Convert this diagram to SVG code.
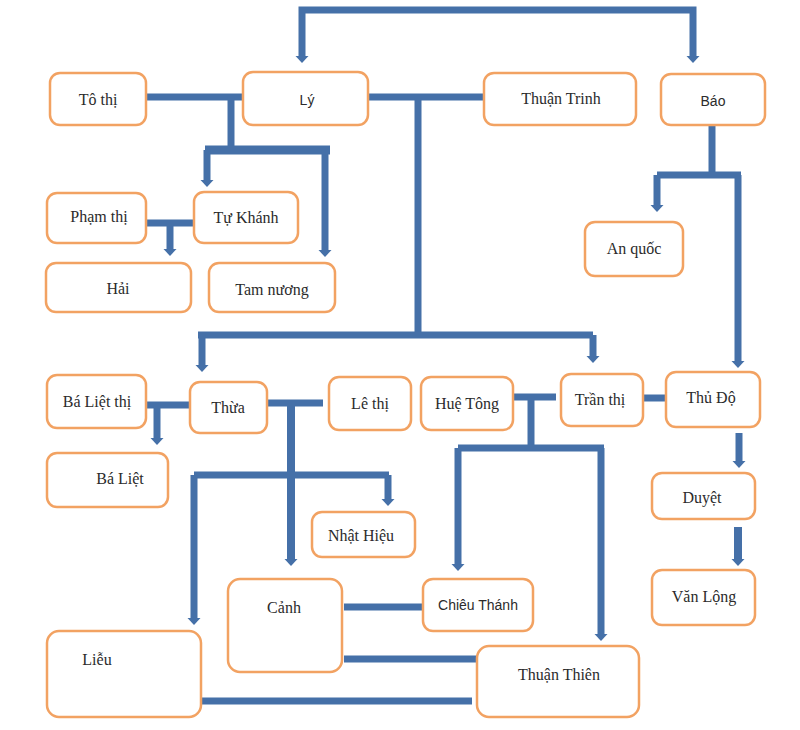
<svg xmlns="http://www.w3.org/2000/svg" width="800" height="730" viewBox="0 0 800 730">
<style>
.box{fill:#fff;stroke:#f2a262;stroke-width:2.5}
.t{font-family:"Liberation Serif","Times New Roman",serif;font-size:16px;fill:#2b2b2b;text-anchor:middle;dominant-baseline:central}
.s{font-family:"Liberation Sans",Arial,sans-serif;font-size:14px;fill:#2b2b2b;text-anchor:middle;dominant-baseline:central}
.c{fill:none;stroke:#4570a8;stroke-width:7;stroke-linejoin:miter}
.a{marker-end:url(#ah)}
.b{marker-start:url(#ah);marker-end:url(#ah)}
</style>
<defs>
<marker id="ah" markerUnits="userSpaceOnUse" markerWidth="10" markerHeight="16" viewBox="0 -8 10 16" refX="0" refY="0" orient="auto-start-reverse">
<path d="M0,-6.5 L7,0 L0,6.5 z" fill="#4570a8"/>
</marker>
</defs>
<g id="connectors">
<path class="c b" d="M302,56 V10 H693 V56"/>
<path class="c" d="M146,97 H243"/>
<path class="c" d="M231,97 V150"/>
<path class="c" d="M205,150 H330" style="stroke-width:9"/>
<path class="c a" d="M207,150 V180"/>
<path class="c a" d="M325,150 V250"/>
<path class="c" d="M368,97 H484"/>
<path class="c" d="M418,97 V335"/>
<path class="c" d="M198,335 H593"/>
<path class="c a" d="M202,335 V365"/>
<path class="c a" d="M593,335 V356"/>
<path class="c" d="M712,125 V175"/>
<path class="c" d="M657,175 H741"/>
<path class="c a" d="M657,175 V205"/>
<path class="c a" d="M738,175 V361"/>
<path class="c" d="M146,223 H194"/>
<path class="c a" d="M170,223 V249"/>
<path class="c" d="M146,405 H190"/>
<path class="c a" d="M157,405 V438"/>
<path class="c" d="M267,403 H323"/>
<path class="c a" d="M291,403 V559" style="stroke-width:8"/>
<path class="c" d="M194,475 H389"/>
<path class="c a" d="M194,475 V618"/>
<path class="c a" d="M388,475 V499"/>
<path class="c" d="M513,397 H556"/>
<path class="c" d="M531,397 V448"/>
<path class="c" d="M458,448 H604"/>
<path class="c a" d="M458,448 V564"/>
<path class="c a" d="M601,448 V634"/>
<path class="c" d="M643,398 H666"/>
<path class="c a" d="M739,433 V461"/>
<path class="c a" d="M738,527 V559" style="stroke-width:8"/>
<path class="c" d="M344,607 H423"/>
<path class="c" d="M344,659 H477"/>
<path class="c" d="M201,701 H472"/>
</g>
<g id="to-thi"><rect class="box" x="50" y="73" width="96" height="52" rx="10"/><text class="t" x="98" y="99">Tô thị</text></g>
<g id="ly"><rect class="box" x="243" y="72" width="125" height="53" rx="10"/><text class="s" x="307" y="100">Lý</text></g>
<g id="thuan-trinh"><rect class="box" x="484" y="73" width="152" height="52" rx="10"/><text class="t" x="561" y="98">Thuận Trinh</text></g>
<g id="bao"><rect class="box" x="661" y="74" width="104" height="51" rx="10"/><text class="s" x="713" y="101">Báo</text></g>
<g id="pham-thi"><rect class="box" x="47" y="193" width="99" height="50" rx="10"/><text class="t" x="99" y="216">Phạm thị</text></g>
<g id="tu-khanh"><rect class="box" x="194" y="192" width="104" height="51" rx="10"/><text class="t" x="246" y="217">Tự Khánh</text></g>
<g id="hai"><rect class="box" x="46" y="263" width="145" height="49" rx="10"/><text class="t" x="118" y="288">Hải</text></g>
<g id="tam-nuong"><rect class="box" x="209" y="263" width="126" height="49" rx="10"/><text class="t" x="272" y="289">Tam nương</text></g>
<g id="an-quoc"><rect class="box" x="585" y="222" width="98" height="54" rx="10"/><text class="t" x="634" y="248">An quốc</text></g>
<g id="ba-liet-thi"><rect class="box" x="47" y="375" width="99" height="53" rx="10"/><text class="t" x="97" y="401">Bá Liệt thị</text></g>
<g id="thua"><rect class="box" x="190" y="382" width="77" height="51" rx="10"/><text class="t" x="228" y="407">Thừa</text></g>
<g id="le-thi"><rect class="box" x="329" y="377" width="82" height="53" rx="10"/><text class="t" x="370" y="403">Lê thị</text></g>
<g id="ba-liet"><rect class="box" x="47" y="453" width="121" height="54" rx="10"/><text class="t" x="120" y="478">Bá Liệt</text></g>
<g id="hue-tong"><rect class="box" x="421" y="377" width="92" height="53" rx="10"/><text class="t" x="467" y="403">Huệ Tông</text></g>
<g id="tran-thi"><rect class="box" x="561" y="374" width="82" height="52" rx="10"/><text class="t" x="600" y="399">Trần thị</text></g>
<g id="thu-do"><rect class="box" x="666" y="372" width="94" height="55" rx="10"/><text class="t" x="711" y="397">Thủ Độ</text></g>
<g id="duyet"><rect class="box" x="652" y="473" width="103" height="46" rx="10"/><text class="t" x="702" y="497">Duyệt</text></g>
<g id="nhat-hieu"><rect class="box" x="312" y="512" width="103" height="45" rx="10"/><text class="t" x="361" y="535">Nhật Hiệu</text></g>
<g id="canh"><rect class="box" x="228" y="579" width="114" height="93" rx="12"/><text class="t" x="284" y="607">Cảnh</text></g>
<g id="lieu"><rect class="box" x="47" y="631" width="154" height="86" rx="12"/><text class="t" x="97" y="659">Liễu</text></g>
<g id="chieu-thanh"><rect class="box" x="423" y="579" width="110" height="52" rx="10"/><text class="s" x="478" y="605">Chiêu Thánh</text></g>
<g id="thuan-thien"><rect class="box" x="477" y="646" width="162" height="71" rx="12"/><text class="t" x="559" y="674">Thuận Thiên</text></g>
<g id="van-long"><rect class="box" x="652" y="570" width="103" height="55" rx="10"/><text class="t" x="704" y="596">Văn Lộng</text></g>
</svg>
